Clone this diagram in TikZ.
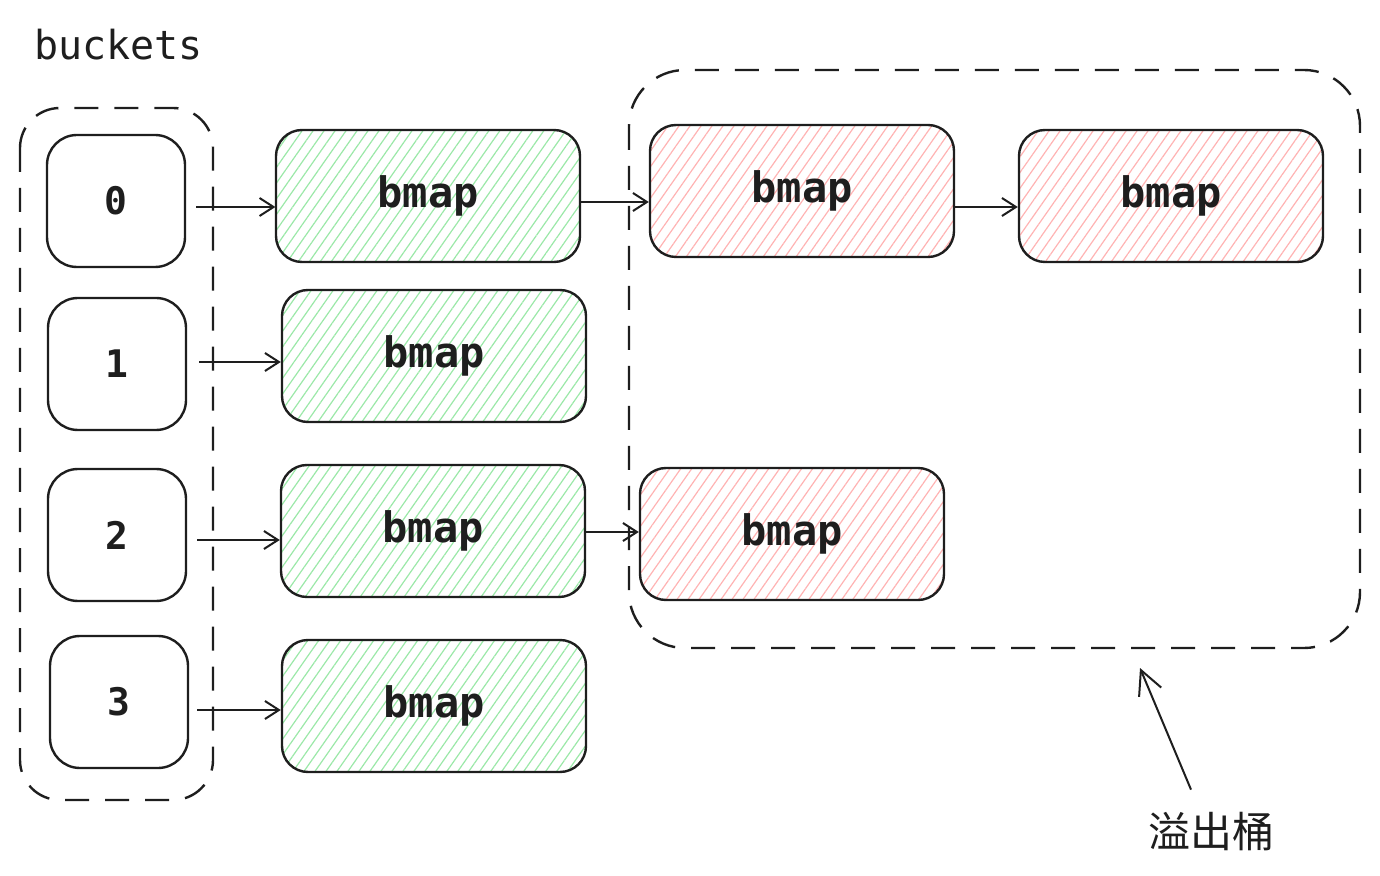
\documentclass[tikz,border=0pt]{standalone}
\usepackage{fontspec}
\setmonofont{DejaVu Sans Mono}
\newfontfamily\cjk{Noto Sans CJK SC}
\usetikzlibrary{arrows.meta, positioning, patterns.meta}

\definecolor{hatchgreen}{HTML}{9BE8A8}
\definecolor{hatchred}{HTML}{FFB3B3}
\definecolor{ink}{HTML}{1E1E1E}

\tikzset{
  bucketbox/.style={draw=ink, line width=1.2pt, rounded corners=15pt,
    minimum width=69pt, minimum height=66pt, fill=white,
    font=\ttfamily\bfseries\fontsize{19}{22}\selectfont, text=ink},
  bmapbox/.style={draw=ink, line width=1.2pt, rounded corners=13pt,
    minimum width=152pt, minimum height=66pt,
    font=\ttfamily\bfseries\fontsize{21}{25}\selectfont, text=ink},
  greenbox/.style={bmapbox, pattern={Lines[angle=55,distance=4.5pt,line width=0.6pt]}, pattern color=hatchgreen},
  redbox/.style={bmapbox, pattern={Lines[angle=55,distance=4.5pt,line width=0.6pt]}, pattern color=hatchred},
  container/.style={draw=ink, line width=1.2pt, dash pattern=on 12pt off 8pt},
  link/.style={draw=ink, line width=1pt, -{Straight Barb[length=7pt,width=9pt]}},
}

\begin{document}
\begin{tikzpicture}[x=0.5pt, y=-0.5pt]
\useasboundingbox (0,0) rectangle (1380,876);

% Title
\node[anchor=west, text=ink, font=\ttfamily\fontsize{20}{24}\selectfont] (title) at (27,45) {buckets};

% Dashed containers
\draw[container, rounded corners=20pt] (20,108) rectangle (213,800);
\draw[container, rounded corners=28pt] (629,70) rectangle (1360,648);

% Buckets
\node[bucketbox] (b0) at (116,201) {0};
\node[bucketbox] (b1) at (117,364) {1};
\node[bucketbox] (b2) at (117,535) {2};
\node[bucketbox] (b3) at (119,702) {3};

% Bucket bmaps
\node[greenbox] (g0) at (428,196) {bmap};
\node[greenbox] (g1) at (434,356) {bmap};
\node[greenbox] (g2) at (433,531) {bmap};
\node[greenbox] (g3) at (434,706) {bmap};

% Overflow bmaps
\node[redbox] (ra) at (802,191) {bmap};
\node[redbox] (rb) at (1171,196) {bmap};
\node[redbox] (rc) at (792,534) {bmap};

% Links
\draw[link, shorten <=5pt] (b0.east |- 0,207) -- (g0.west |- 0,207);
\draw[link, shorten <=6pt] (b1.east |- 0,362) -- (g1.west |- 0,362);
\draw[link, shorten <=5pt] (b2.east |- 0,540) -- (g2.west |- 0,540);
\draw[link, shorten <=4pt] (b3.east |- 0,710) -- (g3.west |- 0,710);
\draw[link] (g0.east |- 0,202) -- (ra.west |- 0,202);
\draw[link] (ra.east |- 0,207) -- (rb.west |- 0,207);
\draw[link] (g2.east |- 0,532) -- (rc.west |- 0,532);

% Overflow label
\node[text=ink, font=\cjk\fontsize{21}{24}\selectfont] (lbl) at (1211,832) {溢出桶};
\coordinate (tip) at (1140,668);
\draw[link, -{Straight Barb[length=12pt,width=12pt]}] ([xshift=-10pt, yshift=8pt]lbl.north) -- (tip);

\end{tikzpicture}
\end{document}
